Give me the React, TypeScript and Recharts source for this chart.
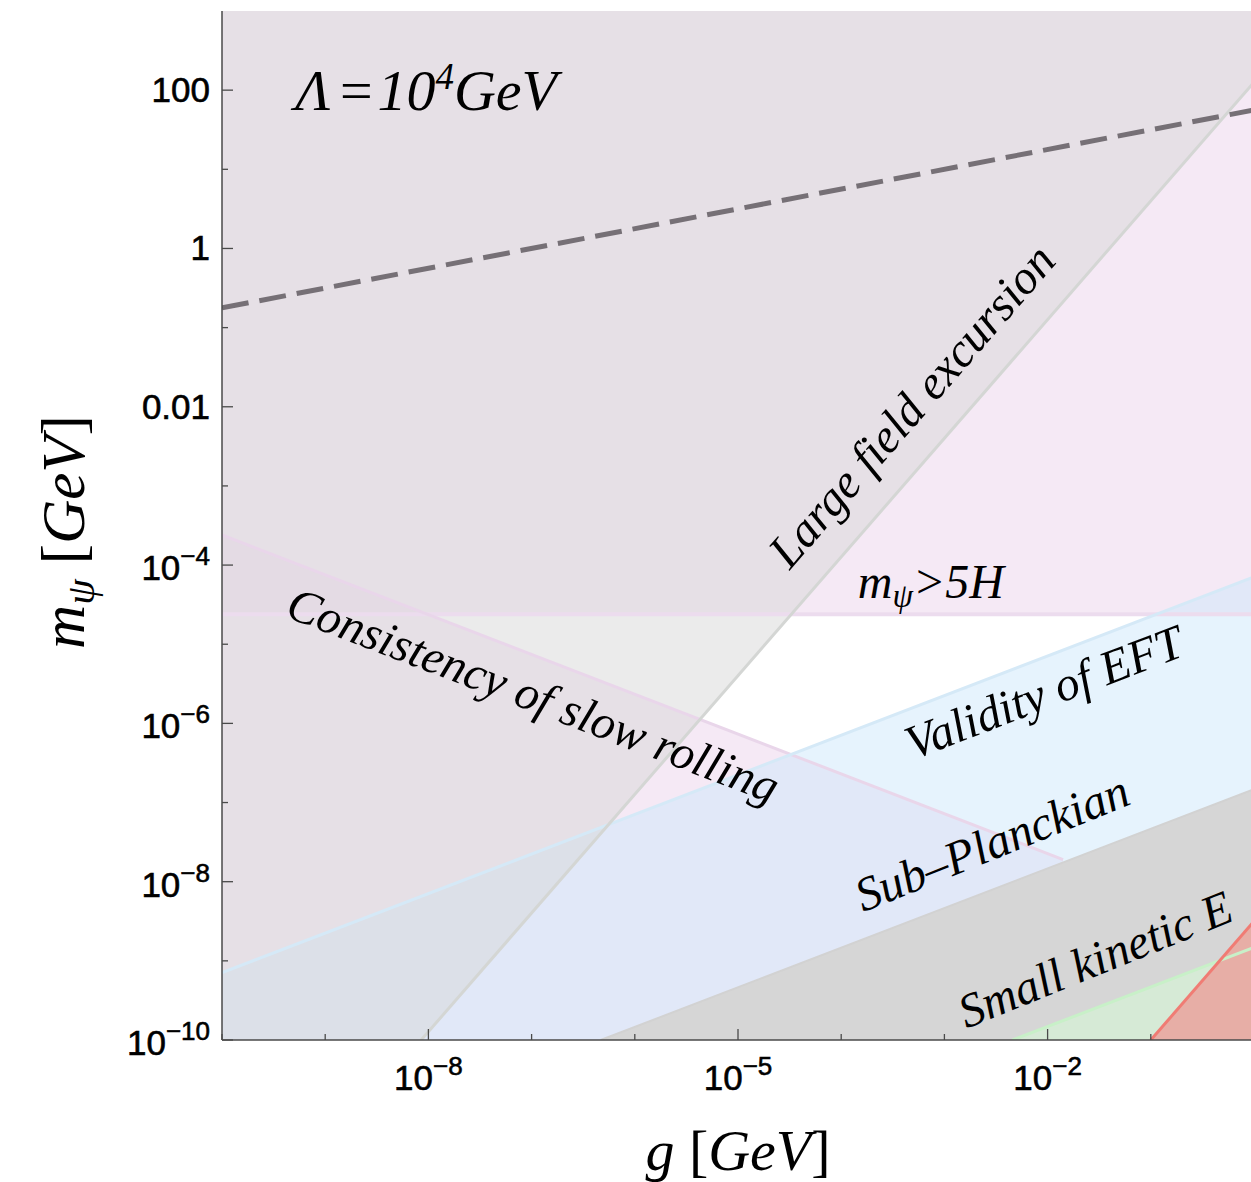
import React from 'react';
import { ComposedChart, Area, Line, XAxis, YAxis, ReferenceDot, Label } from 'recharts';

// everything is in log10 units: lg = log10(g / GeV), lm = log10(m_psi / GeV)
const X_MIN = -10;
const X_MAX = 0;
const Y_MIN = -10;
const Y_MAX = 3;

const xTicks = [-10, -9, -8, -7, -6, -5, -4, -3, -2, -1];
const xLabelled = [-8, -5, -2];
const yTicks = [-10, -9, -8, -7, -6, -5, -4, -3, -2, -1, 0, 1, 2];
const yPlainLabels: Record<number, string> = { 2: '100', 0: '1', [-2]: '0.01' };
const yPowerLabels = [-10, -8, -6, -4];

// boundary lines, read where they meet the frame (or the next region)
const largeFieldEdge = [{ lg: -8.07, lm: -10 }, { lg: 0, lm: 2.1 }];
const hubbleEdge = [{ lg: -10, lm: -4.62 }, { lg: 0, lm: -4.62 }];
const slowRollEdge = [{ lg: -10, lm: -3.62 }, { lg: -1.85, lm: -7.72 }];
const eftEdge = [{ lg: -10, lm: -9.15 }, { lg: 0, lm: -4.15 }];
const planckEdge = [{ lg: -6.33, lm: -10 }, { lg: 0, lm: -6.83 }];
const kineticEdge = [{ lg: -2.34, lm: -10 }, { lg: 0, lm: -8.83 }];
const redEdge = [{ lg: -1, lm: -10 }, { lg: 0, lm: -8.5 }];
const lambdaLine = [{ lg: -10, lm: -0.75 }, { lg: 0, lm: 1.75 }];

// text annotations (baseline midpoints)
const notes = [
  { lg: -3.2, lm: -2.12, angle: -49, text: 'Large field excursion' },
  { lg: -7.04, lm: -5.83, angle: 21, text: 'Consistency of slow rolling' },
  { lg: -1.98, lm: -5.8, angle: -21, text: 'Validity of EFT' },
  { lg: -2.48, lm: -7.7, angle: -22, text: 'Sub\u2013Planckian' },
  { lg: -1.48, lm: -9.17, angle: -22, text: 'Small kinetic E' },
];
const titlePos = { lg: -9.29, lm: 1.75 };
const hubblePos = { lg: -3.84, lm: -4.42 };

type Pt = { lg: number; lm: number };
const above = (edge: Pt[]) => [
  ...(edge[0].lg > X_MIN ? [{ lg: X_MIN, band: [Y_MIN, Y_MAX] }] : []),
  ...edge.map((p) => ({ lg: p.lg, band: [p.lm, Y_MAX] })),
];
const below = (edge: Pt[]) => edge.map((p) => ({ lg: p.lg, band: [Y_MIN, p.lm] }));

const FRAME = '#4a4a4a';
const SANS = '"Liberation Sans", Arial, sans-serif';
const SERIF = '"Liberation Serif", "Times New Roman", serif';
const MINUS = '\u2212';

const tickText = { fontFamily: SANS, fontSize: 35, fill: '#000', stroke: '#000', strokeWidth: 0.6 };

const BottomTick = (p: any) => {
  const { x, y, payload } = p;
  const v = payload.value;
  const major = xLabelled.includes(v);
  return (
    <g>
      <line x1={x} x2={x} y1={y} y2={y - (major ? 11 : 6)} stroke={FRAME} strokeWidth={1.3} />
      {major && (
        <text x={x} y={y + 50} textAnchor="middle" {...tickText}>
          10<tspan dy={-15} fontSize={26}>{MINUS + String(-v)}</tspan>
        </text>
      )}
    </g>
  );
};

const TopTick = (p: any) => {
  const { x, y, payload } = p;
  const major = xLabelled.includes(payload.value);
  return <line x1={x} x2={x} y1={y} y2={y + (major ? 11 : 6)} stroke={FRAME} strokeWidth={1.3} />;
};

const LeftTick = (p: any) => {
  const { x, y, payload } = p;
  const v = payload.value;
  const major = v % 2 === 0;
  let label: React.ReactNode = null;
  if (yPlainLabels[v] !== undefined) {
    label = (
      <text x={x - 12} y={y + 12} textAnchor="end" {...tickText}>
        {yPlainLabels[v]}
      </text>
    );
  } else if (yPowerLabels.includes(v)) {
    label = (
      <text x={x - 12} y={y + 15} textAnchor="end" {...tickText}>
        10<tspan dy={-15} fontSize={26}>{MINUS + String(-v)}</tspan>
      </text>
    );
  }
  return (
    <g>
      <line x1={x} x2={x + (major ? 11 : 6)} y1={y} y2={y} stroke={FRAME} strokeWidth={1.3} />
      {label}
    </g>
  );
};

const RightTick = (p: any) => {
  const { x, y, payload } = p;
  const major = payload.value % 2 === 0;
  return <line x1={x} x2={x - (major ? 11 : 6)} y1={y} y2={y} stroke={FRAME} strokeWidth={1.3} />;
};

const XTitle = (p: any) => {
  const vb = p.viewBox;
  return (
    <text x={vb.x + vb.width / 2} y={vb.y + 130} textAnchor="middle" fontFamily={SERIF} fontSize={58} fontStyle="italic" fill="#000">
      g <tspan fontStyle="normal">[</tspan>GeV<tspan fontStyle="normal">]</tspan>
    </text>
  );
};

const YTitle = (p: any) => {
  const vb = p.viewBox;
  const cx = 84;
  const cy = vb.y + 521;
  return (
    <text x={cx} y={cy} transform={`rotate(-90 ${cx} ${cy})`} textAnchor="middle" fontFamily={SERIF} fontSize={61} fontStyle="italic" fill="#000">
      m<tspan dy={10} fontSize={41}>ψ</tspan>
      <tspan dy={-10}> </tspan>
      <tspan fontStyle="normal">[</tspan>GeV<tspan fontStyle="normal">]</tspan>
    </text>
  );
};

const noteShape = (text: string, angle: number) => (p: any) => (
  <text
    x={p.cx}
    y={p.cy}
    transform={`rotate(${angle} ${p.cx} ${p.cy})`}
    textAnchor="middle"
    fontFamily={SERIF}
    fontStyle="italic"
    fontSize={48}
    fill="#000"
  >
    {text}
  </text>
);

const titleShape = (p: any) => (
  <text x={p.cx} y={p.cy} fontFamily={SERIF} fontStyle="italic" fontSize={58} fill="#000">
    Λ<tspan dx={6}>=</tspan>
    <tspan dx={2}>10</tspan>
    <tspan dy={-21} fontSize={37}>4</tspan>
    <tspan dy={21}>GeV</tspan>
  </text>
);

const hubbleShape = (p: any) => (
  <text x={p.cx} y={p.cy} fontFamily={SERIF} fontStyle="italic" fontSize={48} fill="#000">
    m<tspan dy={9} fontSize={33}>ψ</tspan>
    <tspan dy={-9}>&gt;5H</tspan>
  </text>
);

export default function App() {
  return (
    <div style={{ position: 'absolute', left: 0, top: 0, background: '#fff' }}>
      <ComposedChart width={1260} height={1182} margin={{ top: 11, right: 6, left: 0, bottom: 0 }}>
        <XAxis
          dataKey="lg"
          type="number"
          domain={[X_MIN, X_MAX]}
          allowDataOverflow
          ticks={xTicks}
          interval={0}
          height={142}
          tickSize={0}
          tickMargin={0}
          tickLine={false}
          tick={BottomTick}
          axisLine={{ stroke: FRAME, strokeWidth: 1.5 }}
        >
          <Label content={XTitle} />
        </XAxis>
        <XAxis
          xAxisId="top"
          orientation="top"
          type="number"
          domain={[X_MIN, X_MAX]}
          allowDataOverflow
          ticks={xTicks}
          interval={0}
          height={0}
          tickSize={0}
          tickMargin={0}
          tickLine={false}
          tick={TopTick}
          axisLine={{ stroke: FRAME, strokeWidth: 1.5 }}
        />
        <YAxis
          type="number"
          domain={[Y_MIN, Y_MAX]}
          allowDataOverflow
          ticks={yTicks}
          interval={0}
          width={222}
          tickSize={0}
          tickMargin={0}
          tickLine={false}
          tick={LeftTick}
          axisLine={{ stroke: FRAME, strokeWidth: 1.5 }}
        >
          <Label content={YTitle} />
        </YAxis>
        <YAxis
          yAxisId="right"
          orientation="right"
          type="number"
          domain={[Y_MIN, Y_MAX]}
          allowDataOverflow
          ticks={yTicks}
          interval={0}
          width={0}
          tickSize={0}
          tickMargin={0}
          tickLine={false}
          tick={RightTick}
          axisLine={{ stroke: FRAME, strokeWidth: 1.5 }}
        />

        {/* excluded regions */}
        <Area data={above(hubbleEdge)} dataKey="band" type="linear" stroke="none" fill="#ebd3eb" fillOpacity={0.5} dot={false} activeDot={false} isAnimationActive={false} />
        <Area data={below(slowRollEdge)} dataKey="band" type="linear" stroke="none" fill="#ebd3eb" fillOpacity={0.5} dot={false} activeDot={false} isAnimationActive={false} />
        <Area data={below(eftEdge)} dataKey="band" type="linear" stroke="none" fill="#cde7fb" fillOpacity={0.5} dot={false} activeDot={false} isAnimationActive={false} />
        <Area data={below(planckEdge)} dataKey="band" type="linear" stroke="none" fill="#d6d6d6" fillOpacity={1} dot={false} activeDot={false} isAnimationActive={false} />
        <Area data={below(kineticEdge)} dataKey="band" type="linear" stroke="none" fill="#d6ead6" fillOpacity={1} dot={false} activeDot={false} isAnimationActive={false} />
        <Area data={below(redEdge)} dataKey="band" type="linear" stroke="none" fill="#e7aea6" fillOpacity={1} dot={false} activeDot={false} isAnimationActive={false} />
        <Area data={above(largeFieldEdge)} dataKey="band" type="linear" stroke="none" fill="#d7d7d7" fillOpacity={0.5} dot={false} activeDot={false} isAnimationActive={false} />

        {/* region boundaries */}
        <Line data={hubbleEdge} dataKey="lm" type="linear" stroke="#ecdcee" strokeWidth={4} dot={false} activeDot={false} isAnimationActive={false} />
        <Line data={slowRollEdge} dataKey="lm" type="linear" stroke="#e9d6ea" strokeWidth={3} dot={false} activeDot={false} isAnimationActive={false} />
        <Line data={eftEdge} dataKey="lm" type="linear" stroke="#d5e9f7" strokeWidth={3} dot={false} activeDot={false} isAnimationActive={false} />
        <Line data={planckEdge} dataKey="lm" type="linear" stroke="#d2d2d2" strokeWidth={2} dot={false} activeDot={false} isAnimationActive={false} />
        <Line data={kineticEdge} dataKey="lm" type="linear" stroke="#c8f0c8" strokeWidth={3} dot={false} activeDot={false} isAnimationActive={false} />
        <Line data={redEdge} dataKey="lm" type="linear" stroke="#f07c74" strokeWidth={3} dot={false} activeDot={false} isAnimationActive={false} />
        <Line data={largeFieldEdge} dataKey="lm" type="linear" stroke="#d4d6d4" strokeWidth={3} dot={false} activeDot={false} isAnimationActive={false} />

        {/* Lambda = 10^4 GeV line */}
        <Line data={lambdaLine} dataKey="lm" type="linear" stroke="#767076" strokeWidth={5} strokeDasharray="27 11" dot={false} activeDot={false} isAnimationActive={false} />

        <ReferenceDot x={titlePos.lg} y={titlePos.lm} r={1} shape={titleShape} />
        <ReferenceDot x={hubblePos.lg} y={hubblePos.lm} r={1} shape={hubbleShape} />
        {notes.map((n) => (
          <ReferenceDot key={n.text} x={n.lg} y={n.lm} r={1} shape={noteShape(n.text, n.angle)} />
        ))}
      </ComposedChart>
    </div>
  );
}
